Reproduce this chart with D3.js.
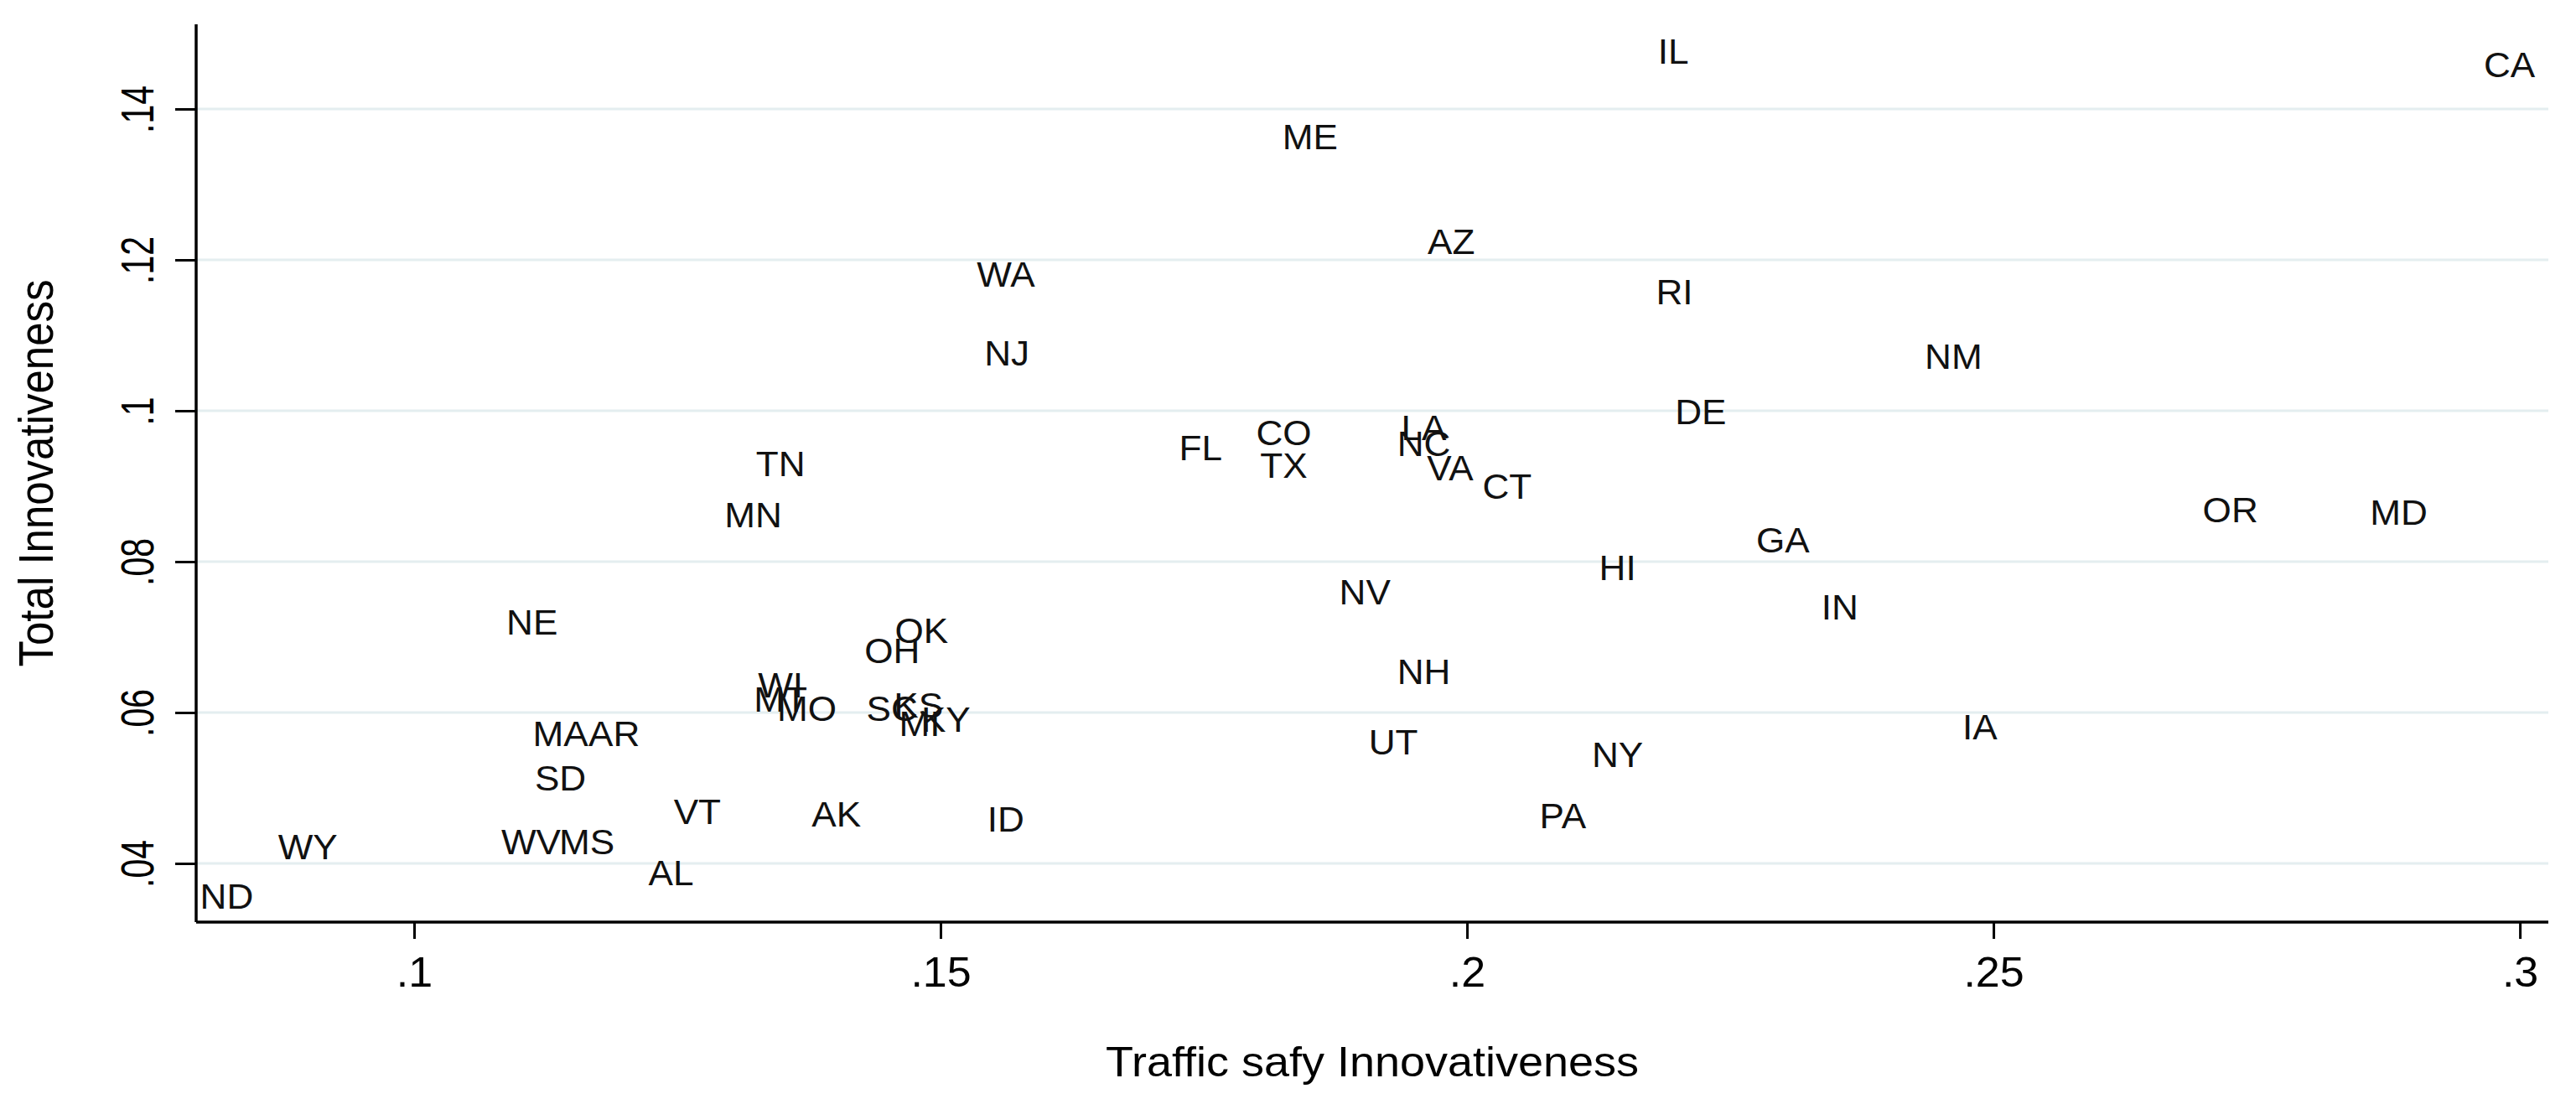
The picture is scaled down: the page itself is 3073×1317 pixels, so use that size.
<!DOCTYPE html>
<html>
<head>
<meta charset="utf-8">
<script src="https://cdn.jsdelivr.net/npm/d3@7"></script>
<style>
  html, body { margin: 0; padding: 0; background: #fff; }
  svg { display: block; font-family: Arial, "Liberation Sans", sans-serif; }
</style>
</head>
<body>
<div id="chart"></div>
<script>
// State codes with their two scores (x = traffic safety, y = total)
const states = ['ND', 'WY', 'NE', 'MA', 'AR', 'SD', 'WV', 'MS', 'VT', 'AL',
  'TN', 'MN', 'WI', 'MT', 'MO', 'AK', 'OK', 'OH', 'SC', 'KS',
  'MI', 'KY', 'ID', 'WA', 'NJ', 'ME', 'FL', 'CO', 'TX', 'NV',
  'UT', 'NH', 'LA', 'NC', 'AZ', 'VA', 'CT', 'PA', 'HI', 'NY',
  'IL', 'RI', 'DE', 'GA', 'IN', 'NM', 'IA', 'OR', 'MD', 'CA'];

const trafficSafety = [0.0822, 0.0899, 0.1112, 0.1139, 0.1190, 0.1139, 0.1111, 0.1164, 0.1269, 0.1244,
  0.1348, 0.1322, 0.1348, 0.1348, 0.1373, 0.1401, 0.1482, 0.1454, 0.1454, 0.1479,
  0.1480, 0.1505, 0.1562, 0.1562, 0.1563, 0.1851, 0.1747, 0.1826, 0.1826, 0.1903,
  0.1930, 0.1959, 0.1959, 0.1959, 0.1985, 0.1984, 0.2038, 0.2091, 0.2143, 0.2143,
  0.2196, 0.2197, 0.2222, 0.2300, 0.2354, 0.2462, 0.2487, 0.2725, 0.2885, 0.2990];

const totalInnov = [0.0357, 0.0422, 0.0720, 0.0572, 0.0572, 0.0513, 0.0429, 0.0429, 0.0469, 0.0388,
  0.0930, 0.0862, 0.0637, 0.0618, 0.0606, 0.0466, 0.0709, 0.0682, 0.0606, 0.0610,
  0.0586, 0.0591, 0.0459, 0.1181, 0.1077, 0.1363, 0.0951, 0.0971, 0.0928, 0.0760,
  0.0561, 0.0654, 0.0978, 0.0957, 0.1224, 0.0924, 0.0900, 0.0463, 0.0792, 0.0544,
  0.1477, 0.1158, 0.0999, 0.0829, 0.0740, 0.1072, 0.0581, 0.0869, 0.0866, 0.1459];

const xTicks = [0.1, 0.15, 0.2, 0.25, 0.3];
const xTickLabels = ['.1', '.15', '.2', '.25', '.3'];
const yTicks = [0.04, 0.06, 0.08, 0.1, 0.12, 0.14];
const yTickLabels = ['.04', '.06', '.08', '.1', '.12', '.14'];

const xTitle = 'Traffic safy Innovativeness';
const yTitle = 'Total Innovativeness';

// Layout
const width = 3073;
const height = 1317;
const plot = { left: 234, right: 3040, top: 29, bottom: 1100 };

const svg = d3.select('#chart')
  .append('svg')
  .attr('width', width)
  .attr('height', height);

const x = d3.scaleLinear()
  .domain([0.0793, 0.3027])
  .range([plot.left, plot.right]);

const y = d3.scaleLinear()
  .domain([0.03222, 0.15122])
  .range([plot.bottom, plot.top]);

// Grid lines (horizontal only, Stata style)
svg.append('g')
  .attr('class', 'grid')
  .selectAll('line')
  .data(yTicks)
  .join('line')
  .attr('x1', plot.left)
  .attr('x2', plot.right)
  .attr('y1', d => y(d))
  .attr('y2', d => y(d))
  .attr('stroke', '#e4eef0')
  .attr('stroke-width', 3);

// X axis
const xAxis = svg.append('g')
  .attr('transform', `translate(0,${plot.bottom})`)
  .call(d3.axisBottom(x)
    .tickValues(xTicks)
    .tickSize(20)
    .tickFormat((d, i) => xTickLabels[i]));

xAxis.select('.domain')
  .attr('d', `M${plot.left},0H${plot.right}`)
  .attr('stroke', '#000')
  .attr('stroke-width', 3.5);
xAxis.selectAll('.tick line')
  .attr('stroke', '#000')
  .attr('stroke-width', 3);
// stretched a touch horizontally, like the source
xAxis.selectAll('.tick text')
  .attr('y', null)
  .attr('dy', null)
  .attr('font-size', 50)
  .attr('fill', '#000')
  .attr('text-anchor', 'middle')
  .attr('transform', 'translate(0,77) scale(1.04,1)');

// Y axis
const yAxis = svg.append('g')
  .attr('transform', `translate(${plot.left},0)`)
  .call(d3.axisLeft(y)
    .tickValues(yTicks)
    .tickSize(25)
    .tickFormat((d, i) => yTickLabels[i]));

yAxis.select('.domain')
  .attr('d', `M0,${plot.top}V${plot.bottom}`)
  .attr('stroke', '#000')
  .attr('stroke-width', 3.5);
yAxis.selectAll('.tick line')
  .attr('stroke', '#000')
  .attr('stroke-width', 3);
// tick labels are vertical in the source
yAxis.selectAll('.tick text')
  .attr('x', null)
  .attr('dy', null)
  .attr('font-size', 41)
  .attr('fill', '#000')
  .attr('text-anchor', 'middle')
  .attr('transform', 'translate(-51,0) scale(1.37,1) rotate(-90)');

// Axis titles
svg.append('text')
  .attr('transform', `translate(${(plot.left + plot.right) / 2},1284) scale(1.08,1)`)
  .attr('text-anchor', 'middle')
  .attr('font-size', 50)
  .attr('fill', '#000')
  .text(xTitle);

svg.append('text')
  .attr('transform', `translate(63,${(plot.top + plot.bottom) / 2}) scale(1.12,1) rotate(-90)`)
  .attr('text-anchor', 'middle')
  .attr('font-size', 51)
  .attr('fill', '#000')
  .text(yTitle);

// State labels centred on each point (no marker symbol)
const points = states.map((s, i) => ({ state: s, xv: trafficSafety[i], yv: totalInnov[i] }));

svg.append('g')
  .attr('class', 'labels')
  .selectAll('text')
  .data(points)
  .join('text')
  .attr('transform', d => `translate(${x(d.xv)},${y(d.yv)}) scale(1.05,1)`)
  .attr('text-anchor', 'middle')
  .attr('dy', '0.358em')
  .attr('font-size', 42)
  .attr('fill', '#111')
  .text(d => d.state);
</script>
</body>
</html>
